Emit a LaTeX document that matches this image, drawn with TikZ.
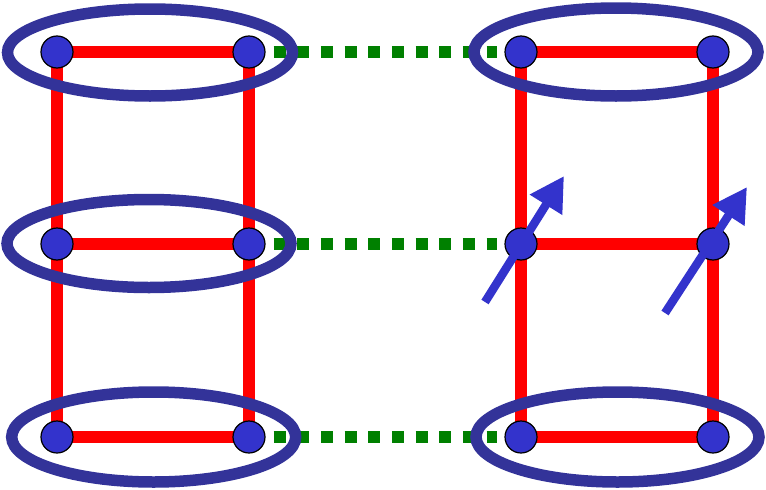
\documentclass[tikz,border=0pt]{standalone}
\usetikzlibrary{arrows.meta}
\definecolor{nodeblue}{RGB}{51,51,204}
\definecolor{ringblue}{RGB}{51,51,153}
\definecolor{dgreen}{RGB}{0,128,0}
\pgfdeclarelayer{background}
\pgfsetlayers{background,main}
\tikzset{
  site/.style={circle,draw=black,line width=1.2pt,fill=nodeblue,minimum size=32pt,inner sep=0pt},
  bond/.style={red,line width=11.5pt},
  hop/.style={dgreen,line width=11.5pt,dash pattern=on 12pt off 11.67pt},
  ring/.style={ringblue,line width=11.5pt},
  spin/.style={nodeblue,line width=8.5pt,-{Triangle[length=34pt,width=36pt]}}
}
\begin{document}
\begin{tikzpicture}[x=1pt,y=-1pt]
\useasboundingbox (0,0) rectangle (766,490);
% sites
\node[site] (L1a) at (57,52) {};
\node[site] (L1b) at (249,52) {};
\node[site] (L2a) at (57,244) {};
\node[site] (L2b) at (249,244) {};
\node[site] (L3a) at (57,437) {};
\node[site] (L3b) at (249,437) {};
\node[site] (R1a) at (521,52) {};
\node[site] (R1b) at (713,52) {};
\node[site] (R2a) at (521,244) {};
\node[site] (R2b) at (713,244) {};
\node[site] (R3a) at (521,437) {};
\node[site] (R3b) at (713,437) {};
\begin{pgfonlayer}{background}
% red bonds
\draw[bond] (L1a.center) -- (L1b.center);
\draw[bond] (L2a.center) -- (L2b.center);
\draw[bond] (L3a.center) -- (L3b.center);
\draw[bond] (L1a.center) -- (L3a.center);
\draw[bond] (L1b.center) -- (L3b.center);
\draw[bond] (R1a.center) -- (R1b.center);
\draw[bond] (R2a.center) -- (R2b.center);
\draw[bond] (R3a.center) -- (R3b.center);
\draw[bond] (R1a.center) -- (R3a.center);
\draw[bond] (R1b.center) -- (R3b.center);
% green dotted links
\draw[hop] ([xshift=8pt]L1b.east) -- ([xshift=-7pt]R1a.west);
\draw[hop] ([xshift=8pt]L2b.east) -- ([xshift=-7pt]R2a.west);
\draw[hop] ([xshift=8pt]L3b.east) -- ([xshift=-7pt]R3a.west);
% rings
\draw[ring] (150,52.5) ellipse [x radius=142.5, y radius=43.5];
\draw[ring] (149,243.5) ellipse [x radius=142, y radius=44];
\draw[ring] (153.7,437) ellipse [x radius=142, y radius=45];
\draw[ring] (616,52) ellipse [x radius=142, y radius=44];
\draw[ring] (617.5,437) ellipse [x radius=141.5, y radius=45];
\end{pgfonlayer}
% spins
\coordinate (s1t) at (485,302);
\coordinate (s1h) at (564,176);
\coordinate (s2t) at (665,313);
\coordinate (s2h) at (747,187);
\draw[spin] (s1t) -- (s1h);
\draw[spin] (s2t) -- (s2h);
\end{tikzpicture}
\end{document}
